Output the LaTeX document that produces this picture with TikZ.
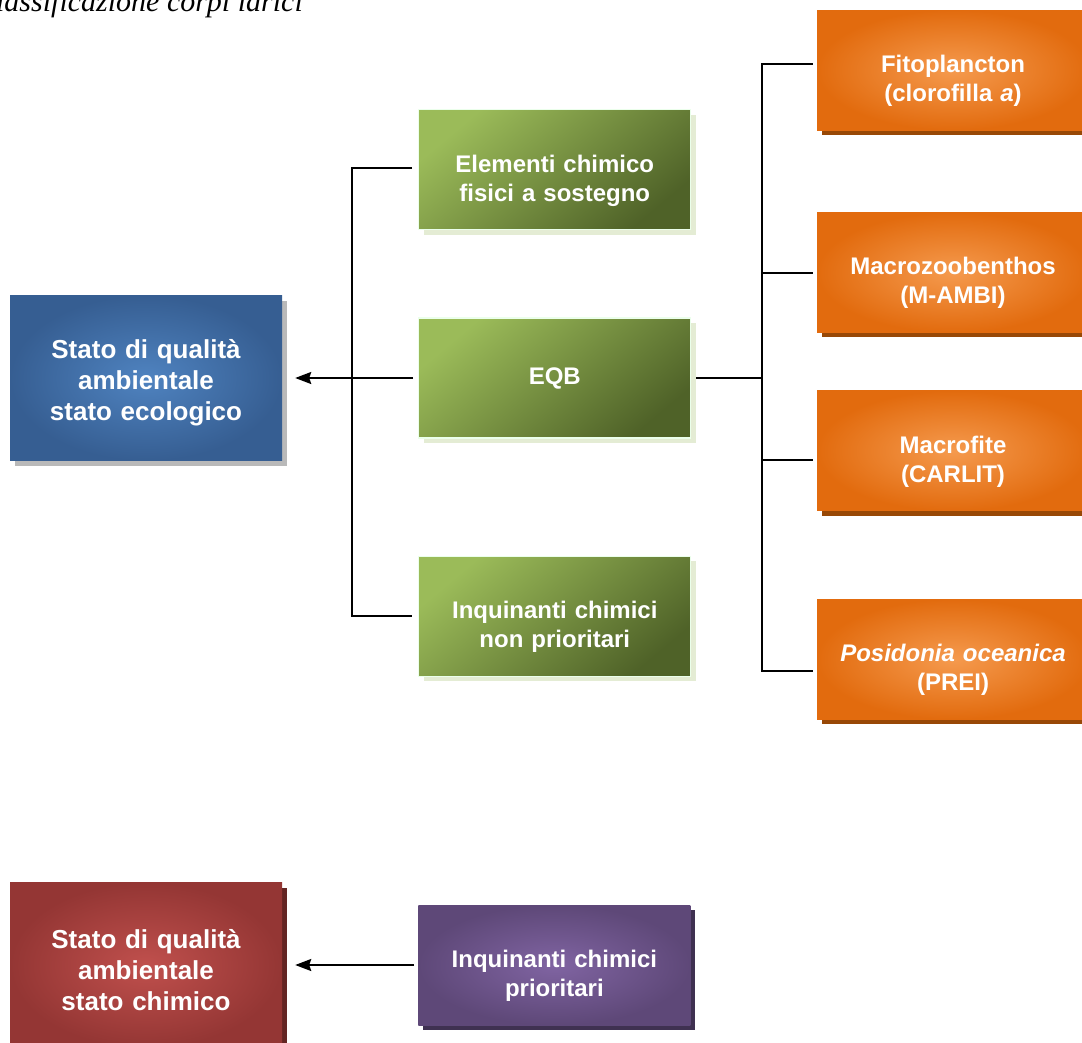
\documentclass[tikz,border=0pt]{standalone}
\usepackage{fontspec}
\setmainfont{Liberation Sans}
\newfontfamily\captionfont{Liberation Serif}
\usetikzlibrary{positioning,arrows.meta,shadows}

\definecolor{bluein}{HTML}{4F83C0}
\definecolor{blueout}{HTML}{365E92}
\definecolor{greenlight}{HTML}{9BBB59}
\definecolor{greendark}{HTML}{4F6228}
\definecolor{greenshadow}{HTML}{E4ECD4}
\definecolor{orangein}{HTML}{F59A4E}
\definecolor{orangeout}{HTML}{E26B0E}
\definecolor{orangeshadow}{HTML}{984806}
\definecolor{redin}{HTML}{C0504D}
\definecolor{redout}{HTML}{943634}
\definecolor{redshadow}{HTML}{632523}
\definecolor{violetin}{HTML}{8064A2}
\definecolor{violetout}{HTML}{5E4878}
\definecolor{violetshadow}{HTML}{3F3151}

\tikzset{
    >={Stealth[length=16pt,width=12pt,inset=2pt]},
    box/.style={
        rectangle,
        minimum width=272pt,
        minimum height=120pt,
        inner sep=0pt,
        text width=262pt,
        align=center,
        text=white,
        font=\fontsize{24}{29}\selectfont\bfseries
    },
    bigbox/.style={
        box,
        minimum height=165pt,
        text height=29pt,
        font=\fontsize{26}{31}\selectfont\bfseries
    },
    lowtext/.style={text height=39pt},
    conn/.style={draw, line width=2pt}
}

\begin{document}
\begin{tikzpicture}[
            x=1pt, y=-1pt,
            stato eco/.style={
                bigbox,
                inner color=bluein,
                outer color=blueout,
                drop shadow={shadow xshift=5pt, shadow yshift=-5pt,
                             fill=gray!55, opacity=1}
            },
            stato chim/.style={
                bigbox,
                inner color=redin,
                outer color=redout,
                drop shadow={shadow xshift=5pt, shadow yshift=-5pt,
                             fill=redshadow, opacity=1}
            },
            elemento/.style={
                box,
                top color=greenlight,
                bottom color=greendark,
                shading angle=40,
                draw=white!92!green,
                line width=1.2pt,
                drop shadow={shadow xshift=5pt, shadow yshift=-5pt,
                             fill=greenshadow, opacity=1}
            },
            indice/.style={
                box,
                inner color=orangein,
                outer color=orangeout,
                drop shadow={shadow xshift=5pt, shadow yshift=-5pt,
                             fill=orangeshadow, opacity=1}
            },
            prioritario/.style={
                box,
                inner color=violetin,
                outer color=violetout,
                drop shadow={shadow xshift=5pt, shadow yshift=-5pt,
                             fill=violetshadow, opacity=1}
            }]
                \useasboundingbox (0,0) rectangle (1082,1042);

                \node[anchor=base east, inner sep=0pt,
                      font=\captionfont\itshape\fontsize{30}{36}\selectfont]
                      (titolo) at (303,11) {classificazione corpi idrici};

                % stato ecologico
                \node[stato eco] (ecologico) at (146,378)
                    {Stato di qualità\\ambientale\\stato ecologico};
                \node[elemento, right=136pt of ecologico] (eqb) {EQB};
                \node[elemento, lowtext, above=87pt of eqb] (elementi)
                    {Elementi chimico\\fisici a sostegno};
                \node[elemento, lowtext, below=117pt of eqb] (inquinanti)
                    {Inquinanti chimici\\non prioritari};

                \node[indice, lowtext] (fito) at (953,70)
                    {Fitoplancton\\(clorofilla \textit{a})};
                \node[indice, lowtext, below=82pt of fito] (macrozoo)
                    {Macrozoobenthos\\(M-AMBI)};
                \node[indice, lowtext, below=58pt of macrozoo] (macrofite)
                    {Macrofite\\(CARLIT)};
                \node[indice, lowtext, below=88pt of macrofite] (posidonia)
                    {\textit{Posidonia oceanica}\\(PREI)};

                \coordinate (left joint) at (352,378);
                \coordinate (right joint) at (762,378);

                \draw[conn] ([xshift=-6pt,yshift=2pt]elementi.west) -| (left joint)
                    |- ([xshift=-6pt]inquinanti.west);
                \draw[conn,->] ([xshift=-5pt]eqb.west) -- ([xshift=13pt]ecologico.east);

                \draw[conn] ([xshift=5pt]eqb.east) -- (right joint);
                \draw[conn] ([xshift=-4pt,yshift=6pt]fito.west) -| (right joint)
                    |- ([xshift=-4pt,yshift=-12pt]posidonia.west);
                \draw[conn] ([xshift=-4pt,yshift=-1pt]macrozoo.west) -| (right joint);
                \draw[conn] ([xshift=-4pt,yshift=-9pt]macrofite.west) -| (right joint);

                % stato chimico
                \node[stato chim] (chimico) at (146,965)
                    {Stato di qualità\\ambientale\\stato chimico};
                \node[prioritario, lowtext, right=136pt of chimico] (prioritari)
                    {Inquinanti chimici\\prioritari};
                \draw[conn,->] ([xshift=-4pt]prioritari.west) -- ([xshift=13pt]chimico.east);
            \end{tikzpicture}
\end{document}
